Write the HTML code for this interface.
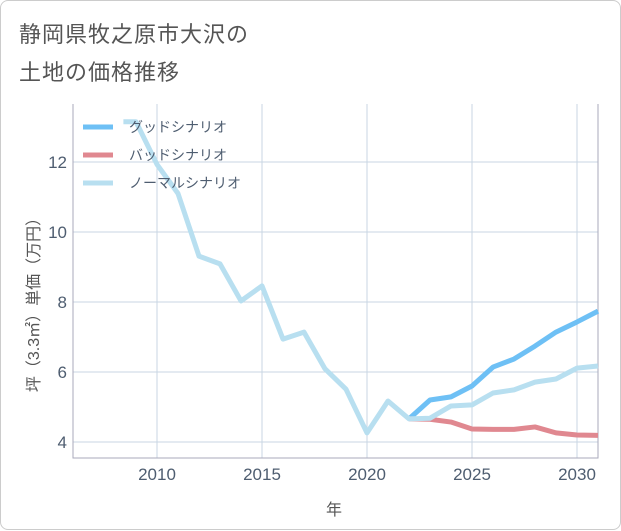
<!DOCTYPE html>
<html><head><meta charset="utf-8"><style>
body{margin:0;background:#fff;font-family:"Liberation Sans","Noto Sans CJK JP",sans-serif}
#card{position:absolute;left:0;top:0;width:619px;height:528px;border:1px solid #ccc;border-radius:8px;background:#fff}
.t{position:absolute;left:18px;font-size:22px;color:#555;letter-spacing:1px}
</style></head><body>
<div id="card">
<div class="t" style="top:16px">静岡県牧之原市大沢の</div>
<div class="t" style="top:54px">土地の価格推移</div>
<svg id="s" width="621" height="530" style="position:absolute;left:0;top:0"></svg>
</div>
<script>
const years=[2008.4,2009,2010,2011,2012,2013,2014,2015,2016,2017,2018,2019,2020,2021,2022,2023,2024,2025,2026,2027,2028,2029,2030,2031];
const normal=[13.15,13.15,11.93,11.1,9.31,9.09,8.03,8.46,6.94,7.14,6.09,5.51,4.26,5.17,4.66,4.68,5.03,5.06,5.4,5.49,5.71,5.8,6.11,6.17];
const fYears=[2022,2023,2024,2025,2026,2027,2028,2029,2030,2031];
const good=[4.66,5.2,5.29,5.6,6.14,6.37,6.74,7.14,7.43,7.74];
const bad=[4.66,4.65,4.57,4.37,4.36,4.36,4.43,4.26,4.2,4.19];
const xTicks=[2010,2015,2020,2025,2030];
const yTicks=[4,6,8,10,12];
const legendLabels=["グッドシナリオ","バッドシナリオ","ノーマルシナリオ"];
const colors=["#6ec0f5","#e08890","#b8dff0"];
const L=72,R=597,T=103,B=457;
const X=v=>156+(v-2010)*21, Y=v=>441-(v-4)*35;
const s=document.getElementById('s'),NS="http://www.w3.org/2000/svg";
function mk(t,a,p){const e=document.createElementNS(NS,t);for(const k in a)e.setAttribute(k,a[k]);(p||s).appendChild(e);return e;}
xTicks.forEach(v=>{const l=mk('line',{x1:X(v),x2:X(v),y1:T,y2:B,stroke:'#c8d6e3'});
const t=mk('text',{x:X(v),y:479,'text-anchor':'middle','font-size':17,fill:'#4e5d70'});t.textContent=v;});
yTicks.forEach(v=>{const l=mk('line',{x1:L,x2:R,y1:Y(v),y2:Y(v),stroke:'#c8d6e3'});
const t=mk('text',{x:66,y:Y(v)+6,'text-anchor':'end','font-size':17,fill:'#4e5d70'});t.textContent=v;});
const ax=mk('path',{d:`M${L} ${T}V${B}H${R}V${T}`,fill:'none',stroke:'#aab'});
function line(xs,ys,c,n){const p=mk('polyline',{points:xs.map((x,i)=>X(x)+','+Y(ys[i])).join(' '),fill:'none',stroke:c,'stroke-width':5,'stroke-linejoin':'round'});}
line(fYears,good,colors[0],'good-scenario-line');
line(fYears,bad,colors[1],'bad-scenario-line');
line(years,normal,colors[2],'normal-scenario-line');
legendLabels.forEach((lb,i)=>{const y=126+i*28;const g=mk('g',{});
mk('line',{x1:82,x2:112,y1:y,y2:y,stroke:colors[i],'stroke-width':5},g);
const t=mk('text',{x:128,y:y+5,'font-size':14,fill:'#4e5d70'},g);t.textContent=lb;});
const xl=mk('text',{x:333,y:514,'text-anchor':'middle','font-size':16,fill:'#555'});xl.textContent='年';
const yl=mk('text',{x:0,y:0,'text-anchor':'middle','font-size':16,fill:'#555',transform:'translate(38,300) rotate(-90)'});yl.textContent='坪（3.3㎡）単価（万円）';
</script></body></html>
